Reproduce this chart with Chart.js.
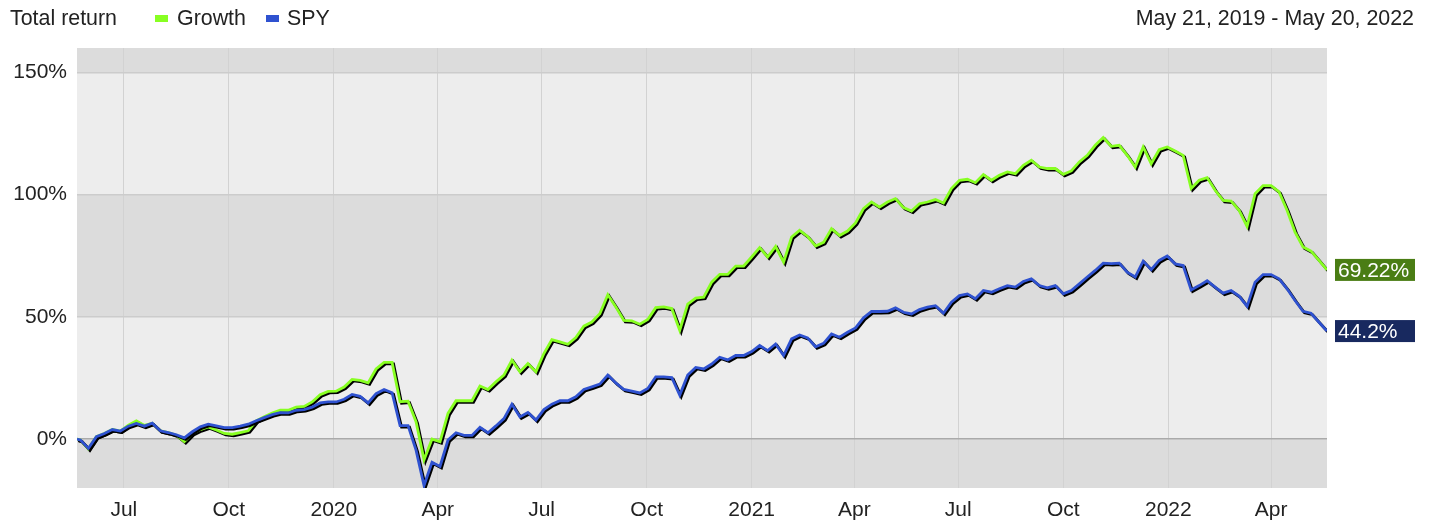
<!DOCTYPE html>
<html>
<head>
<meta charset="utf-8">
<script src="https://cdn.jsdelivr.net/npm/chart.js@4"></script>
<style>
  body { margin: 0; background: #fff; font-family: "Liberation Sans", Arial, sans-serif; color: #222; }
  #wrap { position: relative; width: 1436px; height: 527px; }
  canvas { position: absolute; left: 0; top: 0; }
  .hdr { position: absolute; top: 6px; font-size: 21.4px; line-height: 24px; white-space: nowrap; }
  .sw { position: absolute; top: 15px; width: 13px; height: 7px; }
</style>
</head>
<body>
<div id="wrap">
  <canvas id="totalReturnChart" width="1436" height="527"></canvas>
  <div class="hdr" style="left:10px">Total return</div>
  <div class="sw" style="left:155px;background:#88ff22"></div>
  <div class="hdr" style="left:177px">Growth</div>
  <div class="sw" style="left:266px;background:#2f52d0"></div>
  <div class="hdr" style="left:287px">SPY</div>
  <div class="hdr" style="right:22px">May 21, 2019 - May 20, 2022</div>
</div>
<script>
// days since May 21, 2019; weekly Friday closes after the start day
const startDay = 0;
const firstFriday = 3;
const weekCount = 157;

const growthValues = [0,
  -0.4, -4.0, 1.0, 2.3, 3.9, 3.3, 5.7, 7.5, 5.6, 6.5,
  3.4, 2.7, 1.6, -1.0, 2.3, 3.9, 5.0, 3.7, 2.3, 2.0,
  2.7, 3.4, 7.5, 9.1, 10.7, 11.8, 11.8, 13.1, 13.4, 15.2,
  18.2, 19.5, 19.6, 21.3, 24.4, 24.0, 23.0, 28.7, 31.4, 31.4,
  15.3, 15.5, 7.1, -8.5, 0.0, -1.1, 10.5, 15.7, 15.7, 15.7,
  21.7, 20.3, 23.4, 26.2, 32.3, 27.5, 30.9, 27.5, 35.0, 40.7,
  39.8, 38.8, 41.5, 46.2, 47.9, 51.3, 59.1, 54.1, 48.6, 48.4,
  47.0, 48.9, 53.8, 54.1, 53.4, 44.5, 55.2, 57.7, 58.1, 64.2,
  67.4, 67.4, 70.8, 70.8, 74.5, 78.3, 74.5, 78.8, 72.4, 82.7,
  85.4, 82.9, 79.0, 80.5, 86.1, 83.3, 85.1, 88.4, 94.3, 97.0,
  94.9, 97.0, 98.4, 94.7, 93.3, 96.3, 97.0, 98.0, 96.6, 102.5,
  105.9, 106.3, 104.9, 108.2, 105.9, 107.9, 109.3, 108.6, 112.0, 114.1,
  111.3, 110.7, 110.7, 108.3, 109.7, 113.4, 116.1, 120.2, 123.4, 119.8,
  120.2, 116.1, 111.3, 119.5, 112.7, 118.4, 119.5, 117.9, 116.1, 102.5,
  105.9, 107.0, 101.8, 97.7, 97.4, 93.6, 87.0, 100.4, 103.7, 103.7,
  101.1, 93.6, 84.7, 78.6, 76.9, 73.1, 69.22
];

const spyValues = [0,
  -0.4, -3.8, 1.0, 2.3, 3.9, 3.3, 5.3, 6.4, 5.3, 6.5,
  3.4, 2.7, 1.8, 0.5, 3.0, 5.0, 6.1, 5.4, 4.7, 4.7,
  5.3, 6.1, 7.5, 8.8, 10.0, 10.8, 10.7, 11.8, 12.1, 13.1,
  14.8, 15.2, 15.2, 16.3, 18.3, 17.5, 14.8, 18.6, 20.3, 19.0,
  5.5, 5.5, -4.5, -19.0, -9.5, -11.2, -0.4, 2.6, 1.5, 1.5,
  4.8, 2.6, 5.4, 8.4, 14.3, 9.1, 10.9, 7.8, 12.1, 14.3,
  15.7, 15.7, 17.3, 20.3, 21.4, 22.5, 26.2, 23.0, 20.3, 19.6,
  18.9, 20.7, 25.5, 25.5, 25.2, 18.0, 26.2, 29.3, 28.7, 30.7,
  33.5, 32.4, 34.2, 34.2, 35.8, 38.3, 36.2, 38.9, 34.2, 41.0,
  42.6, 41.4, 37.8, 39.2, 43.0, 41.7, 43.7, 45.5, 49.6, 52.2,
  52.2, 52.3, 53.7, 51.9, 51.2, 53.0, 54.0, 54.6, 51.5, 56.0,
  58.7, 59.4, 57.4, 60.8, 60.1, 61.5, 62.8, 62.2, 64.5, 65.6,
  62.8, 61.9, 62.8, 59.4, 60.8, 63.5, 66.3, 69.0, 72.0, 71.8,
  72.0, 68.3, 66.3, 72.8, 69.3, 73.1, 74.9, 71.7, 71.0, 61.0,
  62.8, 64.8, 62.2, 59.7, 60.8, 58.5, 54.3, 64.2, 67.3, 67.3,
  65.6, 61.5, 56.7, 52.3, 51.5, 47.8, 44.2
];

const monthTickDays = [41, 133, 225, 316, 407, 499, 591, 681, 772, 864, 956, 1046];
const monthTickLabels = ["Jul", "Oct", "2020", "Apr", "Jul", "Oct", "2021", "Apr", "Jul", "Oct", "2022", "Apr"];
const yTickValues = [0, 50, 100, 150];
const yTickLabels = ["0%", "50%", "100%", "150%"];
const endLabels = ["69.22%", "44.2%"];

const color = {
  Green: "#88ff22",
  Blue: "#2f52d0",
  GreenBox: "#4a7d14",
  BlueBox: "#18295f",
};

const dayList = [startDay];
for (let k = 0; k < weekCount; k++) dayList.push(firstFriday + 7 * k);

function toPoints(values) {
  return values.map((v, i) => ({ x: dayList[i], y: v }));
}

const bandPlugin = {
  id: "bands",
  beforeDraw(chart) {
    const { ctx, chartArea, scales } = chart;
    const bands = [[-20, 0, "#dcdcdc"], [0, 50, "#ededed"], [50, 100, "#dcdcdc"], [100, 150, "#ededed"], [150, 160, "#dcdcdc"]];
    ctx.save();
    bands.forEach(([lo, hi, c]) => {
      const y1 = scales.y.getPixelForValue(hi);
      const y2 = scales.y.getPixelForValue(lo);
      ctx.fillStyle = c;
      ctx.fillRect(chartArea.left, y1, chartArea.right - chartArea.left, y2 - y1);
    });
    ctx.restore();
  },
};

const shadowPlugin = {
  id: "lineShadow",
  beforeDatasetDraw(chart) {
    const ctx = chart.ctx;
    ctx.save();
    ctx.shadowColor = "#000";
    ctx.shadowOffsetX = 1.5;
    ctx.shadowOffsetY = 1.5;
    ctx.shadowBlur = 0;
  },
  afterDatasetDraw(chart) {
    chart.ctx.restore();
  },
};

const endLabelPlugin = {
  id: "endLabels",
  afterDraw(chart) {
    const { ctx, chartArea } = chart;
    ctx.save();
    ctx.font = "21px 'Liberation Sans', Arial, sans-serif";
    ctx.textBaseline = "middle";
    chart.data.datasets.forEach((ds, i) => {
      const meta = chart.getDatasetMeta(i);
      const last = meta.data[meta.data.length - 1];
      const x = chartArea.right + 8;
      ctx.fillStyle = ds.boxColor;
      ctx.fillRect(x, last.y - 11, 80, 22);
      ctx.fillStyle = "#fff";
      ctx.fillText(ds.endLabel, x + 3, last.y + 1);
    });
    ctx.restore();
  },
};

const totalReturnChartData = {
  datasets: [
    {
      label: "Growth",
      data: toPoints(growthValues),
      borderColor: color.Green,
      backgroundColor: color.Green,
      boxColor: color.GreenBox,
      endLabel: endLabels[0],
      order: 1,
    },
    {
      label: "SPY",
      data: toPoints(spyValues),
      borderColor: color.Blue,
      backgroundColor: color.Blue,
      boxColor: color.BlueBox,
      endLabel: endLabels[1],
      order: 0,
    },
  ],
};

const tickFont = { family: "'Liberation Sans', Arial, sans-serif", size: 21 };

const totalReturnChartConfig = {
  type: "line",
  data: totalReturnChartData,
  plugins: [bandPlugin, shadowPlugin, endLabelPlugin],
  options: {
    responsive: false,
    animation: false,
    layout: { padding: { top: 48, right: 109, left: 0, bottom: 0 } },
    elements: {
      point: { radius: 0 },
      line: { borderWidth: 2.8, tension: 0, borderJoinStyle: "miter" },
    },
    plugins: {
      legend: { display: false },
      tooltip: { enabled: false },
    },
    scales: {
      x: {
        type: "linear",
        min: 0,
        max: 1095,
        afterFit: (s) => { s.height = 39; },
        afterBuildTicks: (s) => { s.ticks = monthTickDays.map((v) => ({ value: v })); },
        ticks: {
          autoSkip: false,
          maxRotation: 0,
          padding: 10,
          color: "#222",
          font: tickFont,
          callback: (v) => monthTickLabels[monthTickDays.indexOf(v)],
        },
        grid: { color: "#d2d2d2", lineWidth: 1, drawTicks: false },
        border: { display: false },
      },
      y: {
        min: -20,
        max: 160,
        afterFit: (s) => { s.width = 77; },
        afterBuildTicks: (s) => { s.ticks = yTickValues.map((v) => ({ value: v })); },
        ticks: {
          padding: 10,
          color: "#222",
          font: tickFont,
          callback: (v) => yTickLabels[yTickValues.indexOf(v)],
        },
        grid: {
          color: (c) => (c.tick && c.tick.value === 0 ? "#aaaaaa" : "#cccccc"),
          lineWidth: 1.5,
          drawTicks: false,
        },
        border: { display: false },
      },
    },
  },
};

const totalReturnChart = new Chart(
  document.getElementById("totalReturnChart"),
  totalReturnChartConfig
);
</script>
</body>
</html>
